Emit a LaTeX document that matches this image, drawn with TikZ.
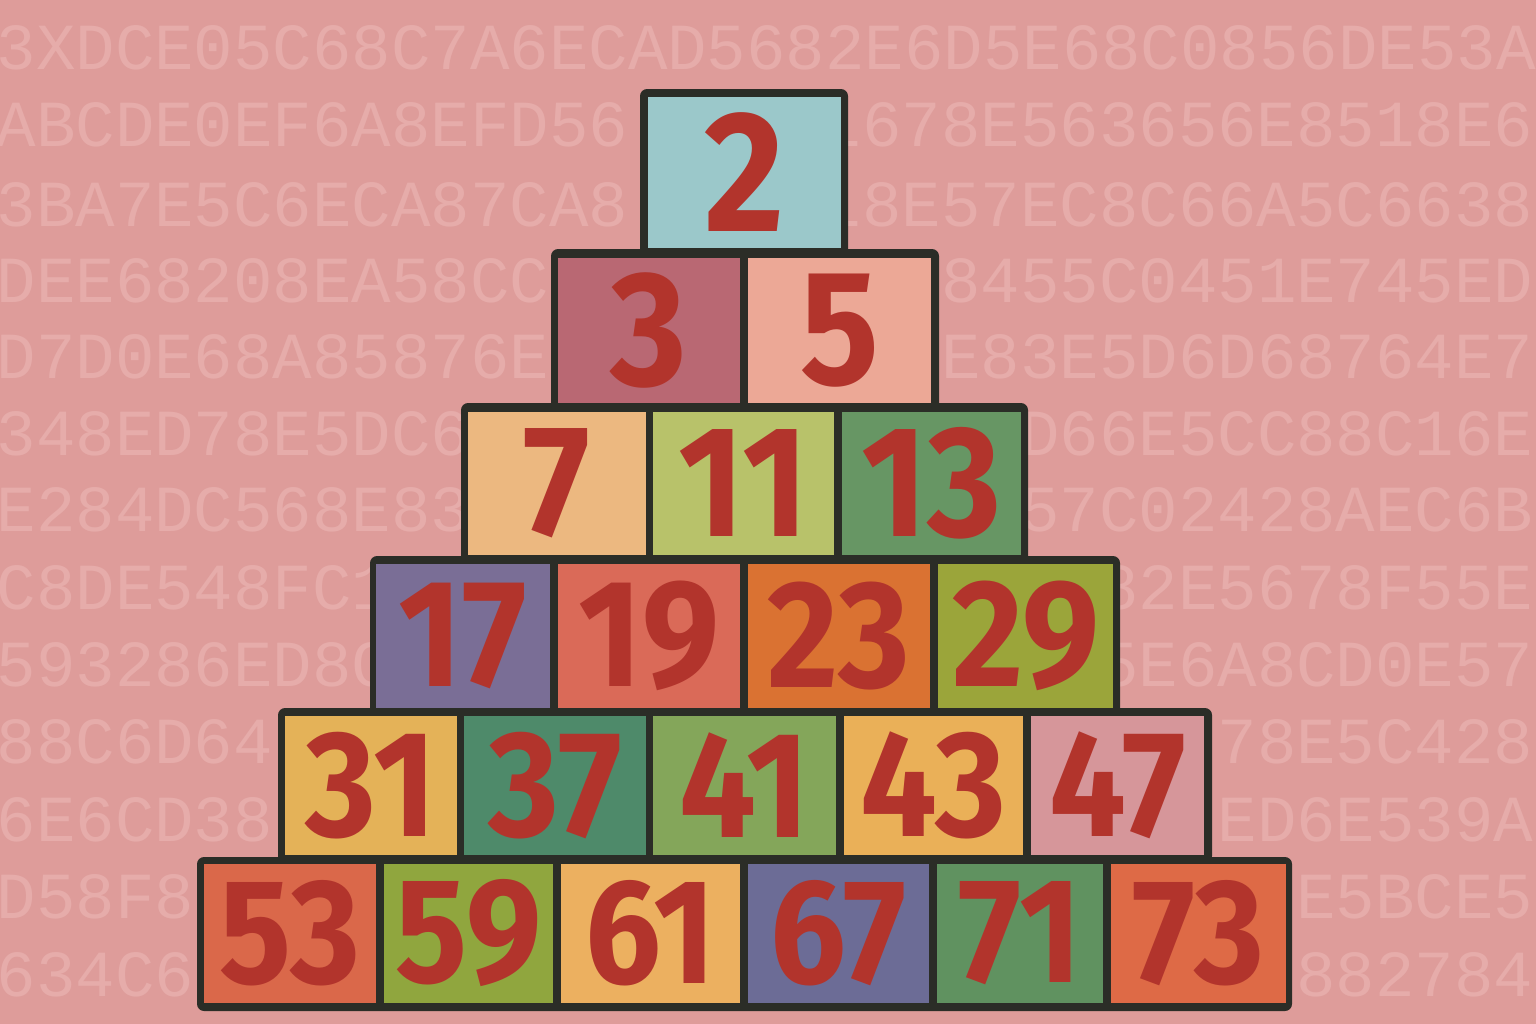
\documentclass[tikz,border=0pt]{standalone}
\usepackage{fontspec}
\newfontfamily\numfont[FakeStretch=0.9]{Fira Sans}
\newfontfamily\hexfont{Liberation Mono}
\definecolor{bgpink}{HTML}{DE9C9A}
\definecolor{hexpink}{HTML}{E6ACAA}
\definecolor{frame}{HTML}{2B2D27}
\definecolor{numred}{HTML}{B2342C}
\definecolor{c2}{HTML}{9BC8CA}
\definecolor{c3}{HTML}{B96873}
\definecolor{c5}{HTML}{ECA896}
\definecolor{c7}{HTML}{ECB880}
\definecolor{c11}{HTML}{B8C26A}
\definecolor{c13}{HTML}{679664}
\definecolor{c17}{HTML}{7A6E96}
\definecolor{c19}{HTML}{DA6A58}
\definecolor{c23}{HTML}{DA7232}
\definecolor{c29}{HTML}{9BA53A}
\definecolor{c31}{HTML}{E4B258}
\definecolor{c37}{HTML}{4E8A6A}
\definecolor{c41}{HTML}{84A65A}
\definecolor{c43}{HTML}{EAB058}
\definecolor{c47}{HTML}{D6969A}
\definecolor{c53}{HTML}{DA684A}
\definecolor{c59}{HTML}{90A63E}
\definecolor{c61}{HTML}{ECB060}
\definecolor{c67}{HTML}{6C6C96}
\definecolor{c71}{HTML}{609260}
\definecolor{c73}{HTML}{DE6A46}
\tikzset{
  hexrow/.style={anchor=west, inner sep=0pt, text=hexpink, font=\hexfont\fontsize{18.7}{20}\selectfont},
  hexright/.style={hexrow, anchor=east},
  num/.style={text=numred, inner sep=0pt, font=\numfont\bfseries\fontsize{#1}{#1}\selectfont},
  num/.default=43.5,
  rowframe/.style={fill=frame, rounded corners=2pt}
}

\begin{document}
\begin{tikzpicture}[x=0.01cm, y=-0.01cm]
  \useasboundingbox (0,0) rectangle (1536,1024);
  \fill[bgpink] (0,0) rectangle (1536,1024);

  % faint hex rows, left and right of the pyramid
  \begin{scope}
    \clip (0,0) rectangle (1536,1024);
    \node[hexrow] (h1) at (-4,48) {3XDCE05C68C7A6ECAD5682E6D5E68C0856DE53A};
    \node[hexrow] (h2l) at (-4,125) {ABCDE0EF6A8EFD56};
    \node[hexright] (h2r) at (1534,125) {L678E563656E8518E6};
    \node[hexrow] (h3l) at (-4,205) {3BA7E5C6ECA87CA8};
    \node[hexright] (h3r) at (1534,205) {L8E57EC8C66A5C6638};
    \node[hexrow] (h4l) at (-4,281) {DEE68208EA58CC};
    \node[hexright] (h4r) at (1534,281) {8455C0451E745ED};
    \node[hexrow] (h5l) at (-4,357) {D7D0E68A85876E};
    \node[hexright] (h5r) at (1534,357) {E83E5D6D68764E7};
    \node[hexrow] (h6l) at (-4,434) {348ED78E5DC6};
    \node[hexright] (h6r) at (1534,434) {D66E5CC88C16E};
    \node[hexrow] (h7l) at (-4,510) {E284DC568E83};
    \node[hexright] (h7r) at (1534,510) {57C02428AEC6B};
    \node[hexrow] (h8l) at (-4,588) {C8DE548FC1};
    \node[hexright] (h8r) at (1534,588) {82E5678F55E};
    \node[hexrow] (h9l) at (-4,665) {593286ED8C};
    \node[hexright] (h9r) at (1534,665) {5E6A8CD0E57};
    \node[hexrow] (h10l) at (-4,742) {88C6D64};
    \node[hexright] (h10r) at (1534,742) {78E5C428};
    \node[hexrow] (h11l) at (-4,820) {6E6CD38};
    \node[hexright] (h11r) at (1534,820) {ED6E539A};
    \node[hexrow] (h12l) at (-4,897) {D58F8};
    \node[hexright] (h12r) at (1534,897) {E5BCE5};
    \node[hexrow] (h13l) at (-4,975) {634C6};
    \node[hexright] (h13r) at (1534,975) {882784};
  \end{scope}

  % row frames
  \fill[rowframe] (640,89) rectangle (848,256);
  \fill[rowframe] (551,249) rectangle (939,411);
  \fill[rowframe] (461,403) rectangle (1028,563);
  \fill[rowframe] (370,556) rectangle (1120,715);
  \fill[rowframe] (278,708) rectangle (1212,863);
  \fill[rowframe] (197,857) rectangle (1292,1011);

  % row 1
  \fill[c2] (648,97) rectangle (841,248);
  \node[num=49] (n2) at (744.5,172.5) {2};

  % row 2
  \fill[c3] (558,258) rectangle (740,403);
  \fill[c5] (748,258) rectangle (931,403);
  \node[num=46.5] (n3) at (649,330.5) {3};
  \node[num=46.5] (n5) at (839.5,330.5) {5};

  % row 3
  \fill[c7] (468,412) rectangle (646,555);
  \fill[c11] (653,412) rectangle (834,555);
  \fill[c13] (842,412) rectangle (1021,555);
  \node[num=45] (n7) at (557,483.5) {7};
  \node[num=45] (n11) at (743.5,483.5) {11};
  \node[num=45] (n13) at (931.5,483.5) {13};

  % row 4
  \fill[c17] (376,564) rectangle (550,708);
  \fill[c19] (558,564) rectangle (740,708);
  \fill[c23] (748,564) rectangle (930,708);
  \fill[c29] (938,564) rectangle (1113,708);
  \node[num] (n17) at (463,636) {17};
  \node[num] (n19) at (649,636) {19};
  \node[num] (n23) at (839,636) {23};
  \node[num] (n29) at (1025.5,636) {29};

  % row 5
  \fill[c31] (285,716) rectangle (457,855);
  \fill[c37] (464,716) rectangle (646,855);
  \fill[c41] (653,716) rectangle (836,855);
  \fill[c43] (844,716) rectangle (1023,855);
  \fill[c47] (1031,716) rectangle (1204,855);
  \node[num=43] (n31) at (371,785.5) {31};
  \node[num=43] (n37) at (555,785.5) {37};
  \node[num=43] (n41) at (744.5,785.5) {41};
  \node[num=43] (n43) at (933.5,785.5) {43};
  \node[num=43] (n47) at (1117.5,785.5) {47};

  % row 6
  \fill[c53] (204,864) rectangle (376,1003);
  \fill[c59] (384,864) rectangle (553,1003);
  \fill[c61] (561,864) rectangle (740,1003);
  \fill[c67] (748,864) rectangle (929,1003);
  \fill[c71] (937,864) rectangle (1103,1003);
  \fill[c73] (1111,864) rectangle (1286,1003);
  \node[num=42.5] (n53) at (290,933.5) {53};
  \node[num=42.5] (n59) at (468.5,933.5) {59};
  \node[num=42.5] (n61) at (650.5,933.5) {61};
  \node[num=42.5] (n67) at (838.5,933.5) {67};
  \node[num=42.5] (n71) at (1020,933.5) {71};
  \node[num=42.5] (n73) at (1198.5,933.5) {73};
\end{tikzpicture}
\end{document}
